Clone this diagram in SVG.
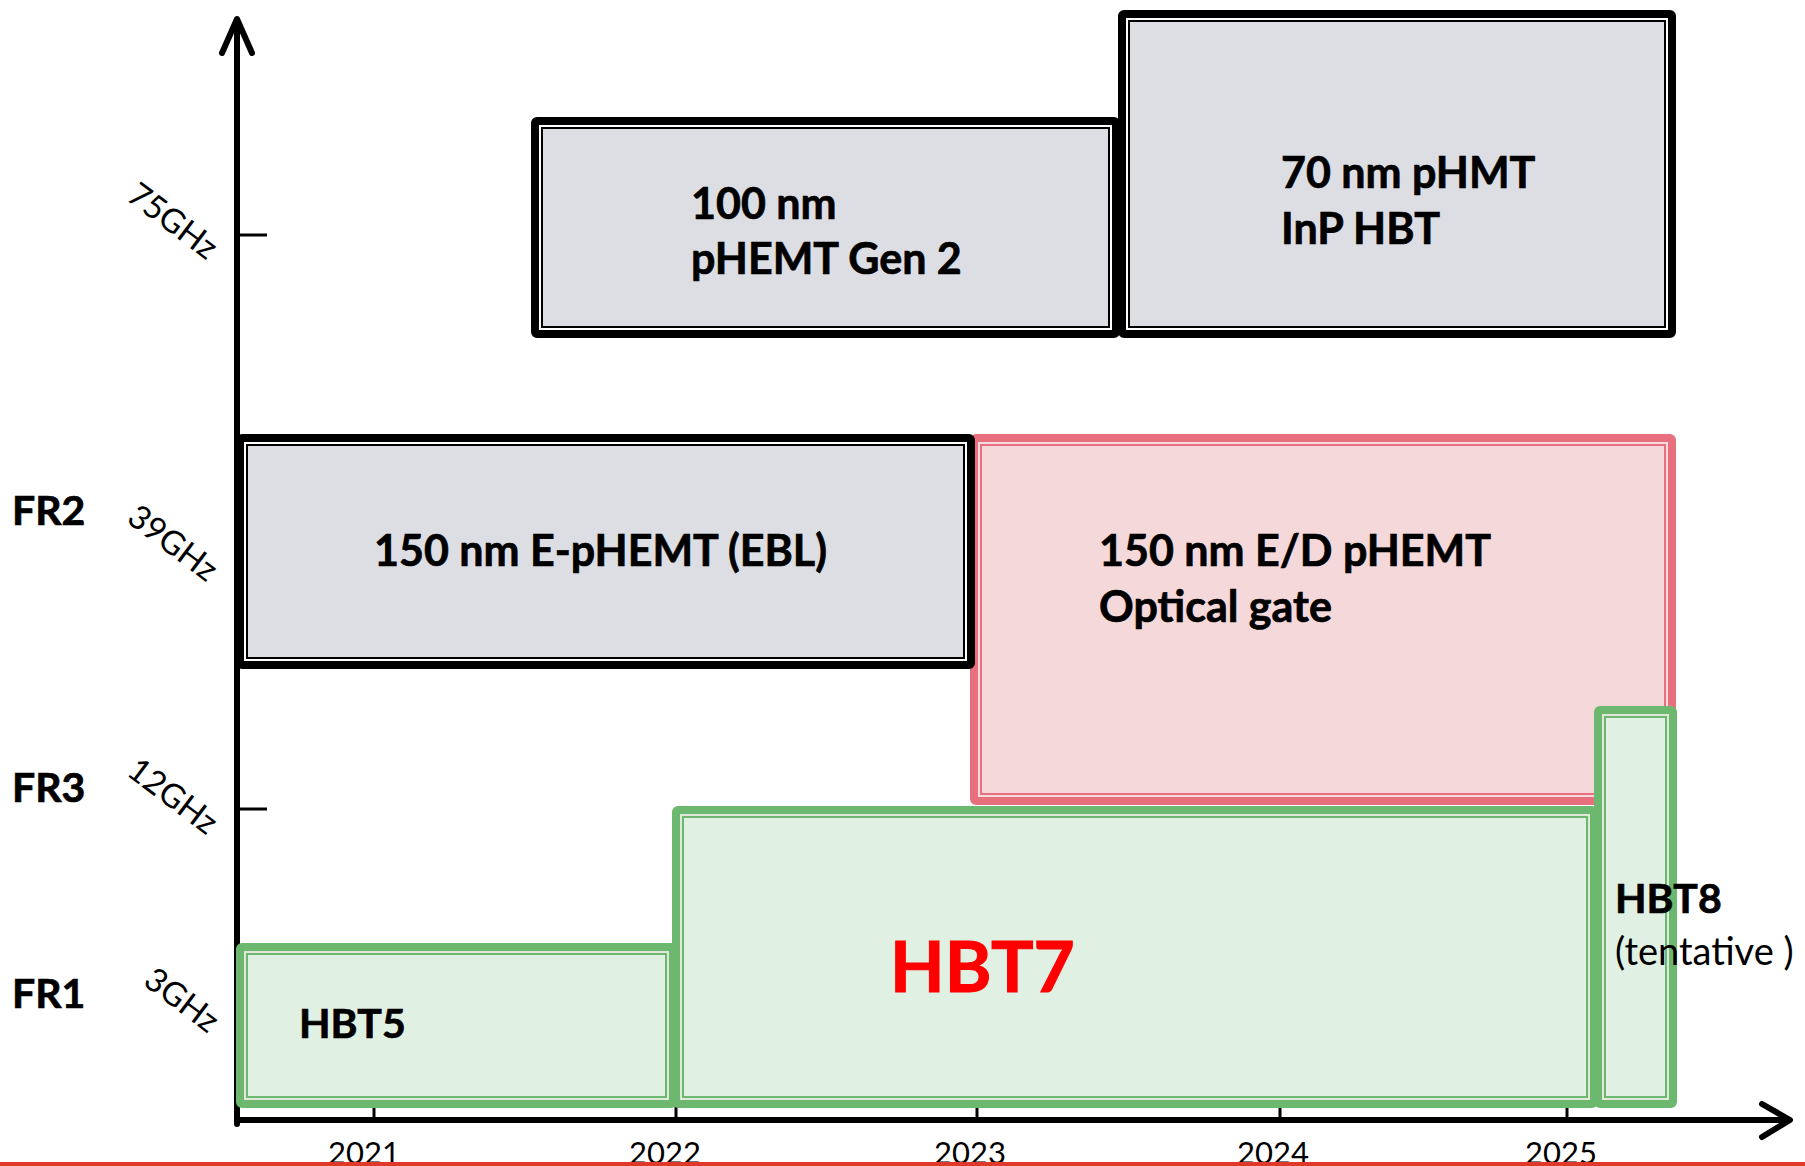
<svg xmlns="http://www.w3.org/2000/svg" width="1805" height="1166" viewBox="0 0 1805 1166">
<style>
.ax{stroke:#000;stroke-width:6;fill:none;stroke-linecap:round;stroke-linejoin:round}
.tk{stroke:#000;stroke-width:3;fill:none}
.gray .o{fill:#dddee3;stroke:#000;stroke-width:12;stroke-linejoin:round}
.pink .o{fill:#f5d8da;stroke:#e76f7e;stroke-width:12;stroke-linejoin:round}
.green .o{fill:#e0f0e2;stroke:#6cb86e;stroke-width:12;stroke-linejoin:round}
.i{fill:none;stroke:#fff;stroke-width:2}
.pink .i,.green .i{stroke:#f6eeee;opacity:.85}
text{font-family:Lato,"Liberation Sans",sans-serif}
.b{font-weight:bold;font-size:43px;fill:#000;stroke:#000;stroke-width:0.7}
.s{font-size:41px}
.r{font-size:31px;fill:#000}
.f{font-size:33px;fill:#000}
</style>
<g id="axes">
<line class="tk" x1="237" y1="235" x2="267" y2="235"/>
<line class="tk" x1="237" y1="556" x2="267" y2="556"/>
<line class="tk" x1="237" y1="809" x2="267" y2="809"/>
<line class="tk" x1="374" y1="1090" x2="374" y2="1120"/>
<line class="tk" x1="676" y1="1090" x2="676" y2="1120"/>
<line class="tk" x1="977" y1="1090" x2="977" y2="1120"/>
<line class="tk" x1="1280" y1="1090" x2="1280" y2="1120"/>
<line class="tk" x1="1567" y1="1090" x2="1567" y2="1120"/>
<line class="ax" x1="237" y1="20" x2="237" y2="1124"/>
<polyline class="ax" points="222,53 237,19 252,53"/>
<line class="ax" x1="237" y1="1120" x2="1788" y2="1120"/>
<polyline class="ax" points="1762,1104 1790,1120 1762,1137"/>
</g>
<g id="node-ed-phemt" class="pink">
<rect class="o" x="976" y="440" width="694" height="359"/>
<rect class="i" x="979" y="443" width="688" height="353"/>
</g>
<g id="node-e-phemt" class="gray">
<rect class="o" x="242" y="440" width="727" height="223"/>
<rect class="i" x="245" y="443" width="721" height="217"/>
</g>
<g id="node-100nm" class="gray">
<rect class="o" x="537" y="123" width="577" height="209"/>
<rect class="i" x="540" y="126" width="571" height="203"/>
</g>
<g id="node-70nm" class="gray">
<rect class="o" x="1124" y="16" width="546" height="316"/>
<rect class="i" x="1127" y="19" width="540" height="310"/>
</g>
<g id="node-hbt5" class="green">
<rect class="o" x="242" y="949" width="429" height="153"/>
<rect class="i" x="245" y="952" width="423" height="147"/>
</g>
<g id="node-hbt7" class="green">
<rect class="o" x="678" y="812" width="914" height="290"/>
<rect class="i" x="681" y="815" width="908" height="284"/>
</g>
<g id="node-hbt8" class="green">
<rect class="o" x="1600" y="712" width="71" height="390"/>
<rect class="i" x="1603" y="715" width="65" height="384"/>
</g>
<g id="labels">
<text class="b" x="691" y="219">100 nm</text>
<text class="b" x="691" y="274">pHEMT Gen 2</text>
<text class="b" x="1281" y="188">70 nm pHMT</text>
<text class="b" x="1281" y="244">InP HBT</text>
<text class="b" x="374" y="566">150 nm E-pHEMT (EBL)</text>
<text class="b" x="1099" y="566">150 nm E/D pHEMT</text>
<text class="b" x="1099" y="622">Optical gate</text>
<text class="b s" x="299" y="1038">HBT5</text>
<text x="890" y="992" style="font-weight:bold;font-size:71px;fill:#ff0000;stroke:#ff0000;stroke-width:1">HBT7</text>
<text class="b s" x="1615" y="913">HBT8</text>
<text x="1615" y="965" style="font-size:38px;fill:#000">(tentative )</text>
<text class="b s" x="12" y="525">FR2</text>
<text class="b s" x="12" y="802">FR3</text>
<text class="b s" x="12" y="1008">FR1</text>
<text class="f" text-anchor="middle" transform="translate(166,230) rotate(37)">75GHz</text>
<text class="f" text-anchor="middle" transform="translate(166,552) rotate(37)">39GHz</text>
<text class="f" text-anchor="middle" transform="translate(166,805) rotate(37)">12GHz</text>
<text class="f" text-anchor="middle" transform="translate(175,1009) rotate(37)">3GHz</text>
<text class="r" text-anchor="middle" x="364" y="1164">2021</text>
<text class="r" text-anchor="middle" x="665" y="1164">2022</text>
<text class="r" text-anchor="middle" x="970" y="1164">2023</text>
<text class="r" text-anchor="middle" x="1273" y="1164">2024</text>
<text class="r" text-anchor="middle" x="1561" y="1164">2025</text>
</g>
<rect x="0" y="1162" width="1805" height="4" fill="#e0392b"/>
</svg>
